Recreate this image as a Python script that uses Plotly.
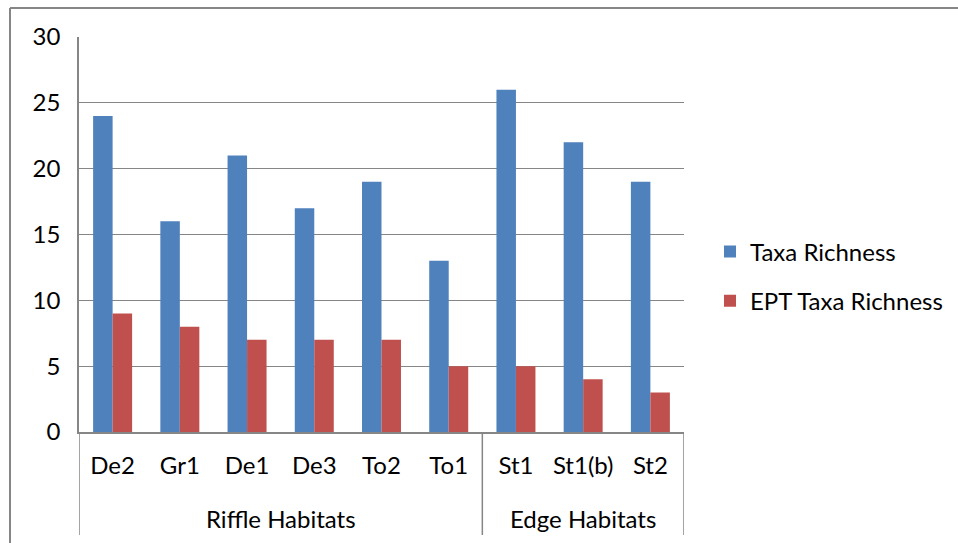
import plotly.graph_objects as go

# Sampling sites and their habitat groups
sites = ["De2", "Gr1", "De1", "De3", "To2", "To1", "St1", "St1(b)", "St2"]
habitats = ["Riffle Habitats", "Edge Habitats"]
habitat_counts = [6, 3]

taxa_richness = [24, 16, 21, 17, 19, 13, 26, 22, 19]
ept_taxa_richness = [9, 8, 7, 7, 7, 5, 5, 4, 3]

y_ticks = [0, 5, 10, 15, 20, 25, 30]

BLUE = "#4F81BD"
RED = "#C0504D"
GRID = "#868686"
FONT = "Lato"
FS = 24

W, H = 958, 543
L, R, T, B = 79, 274, 37, 111
plot_w = W - L - R
plot_h = H - T - B


def px_to_paper_x(px):
    return (px - L) / plot_w


def px_to_paper_y(py):
    return (H - B - py) / plot_h


fig = go.Figure()
fig.add_trace(go.Bar(x=sites, y=taxa_richness, name="Taxa Richness",
                     marker=dict(color=BLUE, line=dict(width=0)), legendgroup="a"))
fig.add_trace(go.Bar(x=sites, y=ept_taxa_richness, name="EPT Taxa Richness",
                     marker=dict(color=RED, line=dict(width=0)), legendgroup="b"))

shapes = []
annotations = []

# Group dividers below the category axis and group labels
start = 0
bounds = [-0.5]
for name, n in zip(habitats, habitat_counts):
    mid = start + (n - 1) / 2
    annotations.append(dict(x=mid, xref="x", y=px_to_paper_y(518), yref="paper",
                            text=name, showarrow=False, xanchor="center", yanchor="middle",
                            font=dict(family=FONT, size=FS, color="black")))
    start += n
    bounds.append(start - 0.5)
for b in bounds:
    shapes.append(dict(type="line", xref="x", yref="paper", x0=b, x1=b,
                       y0=0, y1=px_to_paper_y(535), line=dict(color=GRID, width=1.5)))

# Outer chart border
shapes.append(dict(type="line", xref="paper", yref="paper",
                   x0=px_to_paper_x(10), x1=px_to_paper_x(970),
                   y0=px_to_paper_y(8), y1=px_to_paper_y(8),
                   line=dict(color=GRID, width=2)))
shapes.append(dict(type="line", xref="paper", yref="paper",
                   x0=px_to_paper_x(10), x1=px_to_paper_x(10),
                   y0=px_to_paper_y(8), y1=px_to_paper_y(560),
                   line=dict(color=GRID, width=2)))

fig.update_layout(
    width=W, height=H,
    margin=dict(l=L, r=R, t=T, b=B, autoexpand=False),
    paper_bgcolor="white", plot_bgcolor="white",
    font=dict(family=FONT, size=FS, color="black"),
    barmode="group", bargap=0.42, bargroupgap=0,
    shapes=shapes, annotations=annotations,
    legend=dict(x=px_to_paper_x(710), xanchor="left", y=px_to_paper_y(276.5), yanchor="middle",
                font=dict(family=FONT, size=FS, color="black"),
                tracegroupgap=15, bgcolor="rgba(0,0,0,0)"),
    showlegend=True,
)
fig.update_xaxes(type="category", showgrid=False, showline=True, linecolor=GRID, linewidth=1.5,
                 ticks="", ticklabelstandoff=11, tickfont=dict(family=FONT, size=FS),
                 range=[-0.5, len(sites) - 0.5])
fig.update_yaxes(range=[0, 30], tickvals=y_ticks, showgrid=True, gridcolor=GRID, gridwidth=1,
                 showline=True, linecolor=GRID, linewidth=1.5, ticks="", zeroline=False,
                 ticklabelstandoff=12, tickfont=dict(family=FONT, size=FS))

fig.write_html("out.html")
